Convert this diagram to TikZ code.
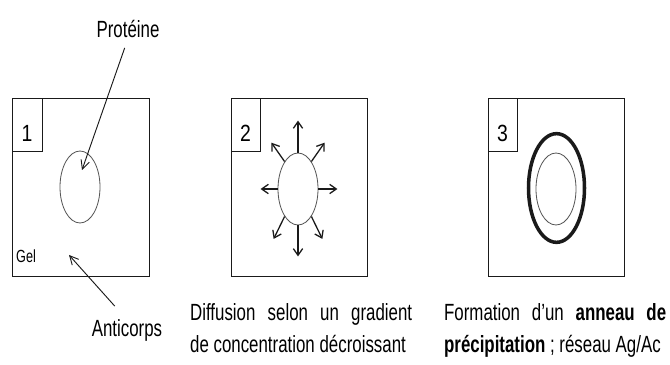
\documentclass[tikz,border=0pt]{standalone}
\usepackage{fontspec}
\setmainfont{Liberation Sans}
\usepackage{tikz}
\usetikzlibrary{positioning,arrows.meta,shapes.geometric}
\definecolor{ink}{HTML}{1A1A1A}
\definecolor{rim}{HTML}{555555}

\begin{document}
\begin{tikzpicture}[x=0.03cm, y=0.03cm,
  gelbox/.style={draw=ink, line width=0.8pt},
  drop/.style={ellipse, draw=rim, line width=0.7pt, minimum width=1.2cm, minimum height=2.16cm, inner sep=0pt},
  lbl/.style={font=\fontsize{20}{27.3}\selectfont, xscale=0.72, transform shape, inner sep=0pt},
  pointer/.style={-{Straight Barb[length=2.6mm,width=2.6mm]}, line width=0.8pt, draw=ink},
  spread/.style={-{Straight Barb[length=2mm,width=2.8mm]}, line width=1.1pt, draw=ink}]
\useasboundingbox (0,0) rectangle (670,365);
\draw[gelbox] (12,267) rectangle (149,89);
\draw[gelbox] (12,267) rectangle (42,214);
\draw[gelbox] (231,267) rectangle (367,89);
\draw[gelbox] (231,267) rectangle (260,214);
\draw[gelbox] (488,267) rectangle (624,89);
\draw[gelbox] (488,267) rectangle (517,214);
\node[lbl, anchor=base, xscale=1.15] (n1) at (27,223) {1};
\node[lbl, anchor=base, xscale=1.15] (n2) at (245.5,223) {2};
\node[lbl, anchor=base, xscale=1.15] (n3) at (502.5,223) {3};
\node[drop] (drop1) at (80,178) {};
\node[drop] (drop2) at (298,176) {};
\node[drop] (drop3) at (556,176) {};
\node[drop, draw=ink, line width=3pt, minimum width=1.68cm, minimum height=3.26cm] (ring) at (556.5,177) {};
\node[lbl, anchor=base] (prot) at (128,327) {Protéine};
\node[lbl, anchor=base] (anti) at (127,28) {Anticorps};
\node[lbl, anchor=base west, font=\fontsize{15}{18}\selectfont] (gel) at (16,102) {Gel};
\coordinate (hitP) at (82,195);
\coordinate (hitA) at (69,110);
\draw[pointer, shorten <=3mm] (prot.south) -- (hitP);
\draw[pointer, shorten <=5.5mm] (anti.north) -- (hitA);
\foreach \a/\d/\l in {90/90/32, 270/270/31, 0/0/19, 180/180/17, 64/55/23, 116/125/23, 244/244/25, 296/296/25}
  \draw[spread] (drop2.\a) -- ++(\d:\l);
\node[lbl, anchor=base west, text width=9.25cm, align=justify] (cap2) at (190,44) {Diffusion selon un gradient\linebreak de concentration décroissant};
\node[lbl, anchor=base west, text width=9.25cm, align=justify] (cap3) at (444,44) {Formation d'un \textbf{anneau de}\linebreak \textbf{précipitation} ; réseau Ag/Ac};
\end{tikzpicture}
\end{document}
